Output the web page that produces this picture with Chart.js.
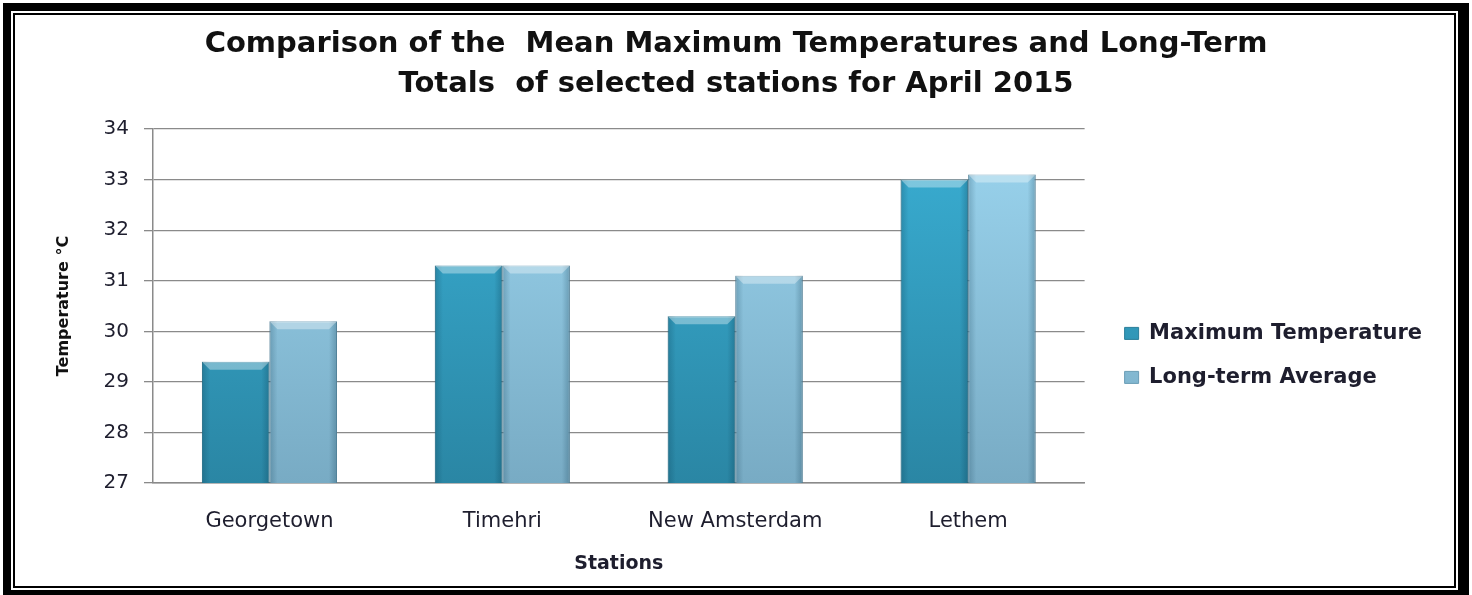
<!DOCTYPE html>
<html>
<head>
<meta charset="utf-8">
<script src="https://cdn.jsdelivr.net/npm/chart.js@4"></script>
<style>
  html, body { margin: 0; padding: 0; background: #fff; }
  #wrap { position: relative; width: 1472px; height: 595px; overflow: hidden; }
  #myChart { position: absolute; left: 0; top: 0; }
  .frame { position: absolute; left: 3px; top: 3px; width: 1466px; height: 595px; box-sizing: border-box;
           border-style: solid; border-color: #000; border-width: 8px 11px 8px 8px; pointer-events: none; }
  .frame div { position: absolute; left: 2px; top: 2px; right: 2px; bottom: 2px; border: 2px solid #000; }
</style>
</head>
<body>
<div id="wrap">
  <canvas id="myChart" width="1472" height="595"></canvas>
  <div class="frame"><div></div></div>
</div>
<script>
const stations = ['Georgetown', 'Timehri', 'New Amsterdam', 'Lethem'];
const maxTemp = [29.4, 31.3, 30.3, 33.0];
const longTermAvg = [30.2, 31.3, 31.1, 33.1];
const titleLines = ['Comparison of the  Mean Maximum Temperatures and Long-Term', 'Totals  of selected stations for April 2015'];

const gridColor = '#8a8a8a';
const textColor = '#1e1e2e';

const vGrad = (top, bottom) => (context) => {
  const area = context.chart.chartArea;
  if (!area) return top;
  const g = context.chart.ctx.createLinearGradient(0, area.top, 0, area.bottom);
  g.addColorStop(0, top);
  g.addColorStop(1, bottom);
  return g;
};

// shading + bevelled top on each bar, like the office 3D style
const bevel = {
  id: 'bevel',
  afterDatasetsDraw(chart) {
    const ctx = chart.ctx;
    const area = chart.chartArea;
    chart.data.datasets.forEach((ds, i) => {
      chart.getDatasetMeta(i).data.forEach((bar) => {
        const left = bar.x - bar.width / 2;
        const right = bar.x + bar.width / 2;
        const top = bar.y;
        const bottom = Math.min(bar.base, area.bottom);
        ctx.save();
        const g = ctx.createLinearGradient(left, 0, right, 0);
        g.addColorStop(0, 'rgba(0,40,60,0.22)');
        g.addColorStop(0.12, 'rgba(0,40,60,0)');
        g.addColorStop(0.88, 'rgba(0,40,60,0)');
        g.addColorStop(1, 'rgba(0,40,60,0.25)');
        ctx.fillStyle = g;
        ctx.fillRect(left, top, right - left, bottom - top);
        const b = 8;
        ctx.beginPath();
        ctx.moveTo(left, top);
        ctx.lineTo(right, top);
        ctx.lineTo(right - b, top + b);
        ctx.lineTo(left + b, top + b);
        ctx.closePath();
        ctx.fillStyle = 'rgba(255,255,255,0.35)';
        ctx.fill();
        ctx.restore();
      });
    });
  }
};

// nudge legend and title where the original has them
const layoutFix = {
  id: 'layoutFix',
  afterLayout(chart) {
    chart.legend.left += 17;
    chart.legend.right += 17;
    chart.legend.top += 59;
    chart.legend.bottom += 59;
    chart.titleBlock.right = chart.width - chart.titleBlock.left;
  }
};

const ctx = document.getElementById('myChart').getContext('2d');
const myChart = new Chart(ctx, {
  type: 'bar',
  data: {
    labels: stations,
    datasets: [
      {
        label: 'Maximum Temperature',
        data: maxTemp,
        backgroundColor: vGrad('#3aafd4', '#2a86a4'),
        borderColor: '#2a7e9a',
        borderWidth: 1,
        categoryPercentage: 0.58,
        barPercentage: 1.0
      },
      {
        label: 'Long-term Average',
        data: longTermAvg,
        backgroundColor: vGrad('#9bd5ef', '#78abc4'),
        borderColor: '#6a9db6',
        borderWidth: 1,
        categoryPercentage: 0.58,
        barPercentage: 1.0
      }
    ]
  },
  options: {
    responsive: false,
    animation: false,
    layout: {
      padding: { left: 20, top: 15, right: 57, bottom: 17.2 }
    },
    plugins: {
      title: {
        display: true,
        text: titleLines,
        color: '#111',
        font: { family: 'DejaVu Sans', size: 29, weight: 'bold', lineHeight: 1.38 },
        padding: { top: 9, bottom: 25 }
      },
      legend: {
        position: 'right',
        labels: {
          boxWidth: 14,
          boxHeight: 12,
          padding: 23,
          color: textColor,
          font: { family: 'DejaVu Sans', size: 21, weight: 'bold' }
        }
      },
      tooltip: { enabled: false }
    },
    scales: {
      x: {
        afterFit: (scale) => { scale.height = 94.8; },
        grid: { display: false, drawTicks: false },
        border: { display: true, color: gridColor, width: 1.5 },
        ticks: {
          color: textColor,
          padding: 26,
          font: { family: 'DejaVu Sans', size: 21 }
        },
        title: {
          display: true,
          text: 'Stations',
          color: textColor,
          font: { family: 'DejaVu Sans', size: 19, weight: 'bold' },
          padding: { top: 20, bottom: 2 }
        }
      },
      y: {
        min: 27,
        max: 34,
        afterFit: (scale) => { scale.width = 133; },
        grid: { color: gridColor, lineWidth: 1.3, tickLength: 9 },
        border: { color: gridColor, width: 1.5 },
        ticks: {
          stepSize: 1,
          color: textColor,
          padding: 15,
          font: { family: 'DejaVu Sans', size: 20 }
        },
        title: {
          display: true,
          text: 'Temperature °C',
          color: '#111',
          font: { family: 'DejaVu Sans', size: 16, weight: 'bold' },
          padding: { top: 34, bottom: 0 }
        }
      }
    }
  },
  plugins: [bevel, layoutFix]
});
</script>
</body>
</html>
